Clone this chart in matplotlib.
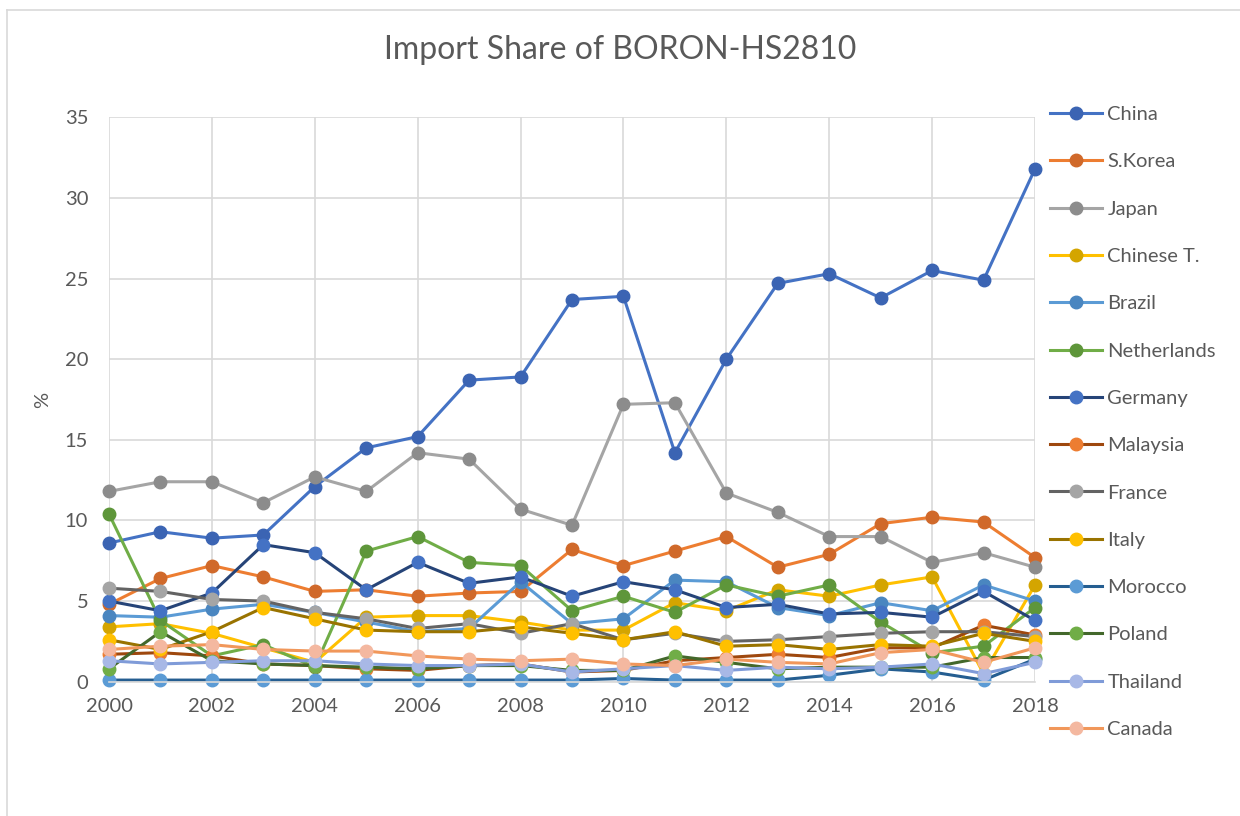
import matplotlib
matplotlib.use("Agg")
import matplotlib.pyplot as plt
from matplotlib.lines import Line2D

plt.rcParams['font.family'] = ['Lato', 'DejaVu Sans']

years = list(range(2000, 2019))

china = [8.6, 9.3, 8.9, 9.1, 12.1, 14.5, 15.2, 18.7, 18.9, 23.7, 23.9, 14.2, 20.0, 24.7, 25.3, 23.8, 25.5, 24.9, 31.8]
skorea = [4.8, 6.4, 7.2, 6.5, 5.6, 5.7, 5.3, 5.5, 5.6, 8.2, 7.2, 8.1, 9.0, 7.1, 7.9, 9.8, 10.2, 9.9, 7.7]
japan = [11.8, 12.4, 12.4, 11.1, 12.7, 11.8, 14.2, 13.8, 10.7, 9.7, 17.2, 17.3, 11.7, 10.5, 9.0, 9.0, 7.4, 8.0, 7.1]
chinese_t = [3.4, 3.6, 3.0, 2.1, 1.2, 4.0, 4.1, 4.1, 3.7, 3.2, 3.2, 4.9, 4.4, 5.7, 5.3, 6.0, 6.5, 0.5, 6.0]
brazil = [4.1, 4.0, 4.5, 4.8, 4.3, 3.7, 3.1, 3.3, 6.2, 3.6, 3.9, 6.3, 6.2, 4.6, 4.1, 4.9, 4.4, 6.0, 5.0]
netherlands = [10.4, 3.8, 1.6, 2.3, 0.9, 8.1, 9.0, 7.4, 7.2, 4.4, 5.3, 4.3, 6.0, 5.3, 6.0, 3.7, 1.8, 2.2, 4.6]
germany = [5.0, 4.4, 5.5, 8.5, 8.0, 5.7, 7.4, 6.1, 6.5, 5.3, 6.2, 5.7, 4.6, 4.8, 4.2, 4.3, 4.0, 5.6, 3.8]
malaysia = [1.7, 1.8, 1.6, 1.1, 1.0, 0.8, 0.7, 1.0, 1.1, 0.6, 0.7, 1.3, 1.5, 1.7, 1.5, 2.1, 2.1, 3.5, 2.9]
france = [5.8, 5.6, 5.1, 5.0, 4.3, 3.9, 3.3, 3.6, 3.0, 3.6, 2.6, 3.0, 2.5, 2.6, 2.8, 3.0, 3.1, 3.1, 2.8]
italy = [2.6, 2.0, 3.1, 4.6, 3.9, 3.2, 3.1, 3.1, 3.4, 3.0, 2.6, 3.1, 2.2, 2.3, 2.0, 2.3, 2.2, 3.0, 2.5]
morocco = [0.1, 0.1, 0.1, 0.1, 0.1, 0.1, 0.1, 0.1, 0.1, 0.1, 0.2, 0.1, 0.1, 0.1, 0.4, 0.8, 0.6, 0.1, 1.4]
poland = [0.8, 3.1, 1.3, 1.1, 1.0, 0.9, 0.8, 1.0, 1.0, 0.7, 0.7, 1.6, 1.2, 0.8, 0.9, 0.9, 0.9, 1.5, 1.5]
thailand = [1.3, 1.1, 1.2, 1.3, 1.3, 1.1, 1.0, 1.0, 1.1, 0.6, 0.8, 1.0, 0.7, 0.9, 0.8, 0.9, 1.1, 0.5, 1.2]
canada = [2.0, 2.2, 2.3, 2.0, 1.9, 1.9, 1.6, 1.4, 1.3, 1.4, 1.1, 1.0, 1.4, 1.2, 1.1, 1.8, 2.0, 1.2, 2.1]

countries = ["China", "S.Korea", "Japan", "Chinese T.", "Brazil", "Netherlands", "Germany",
             "Malaysia", "France", "Italy", "Morocco", "Poland", "Thailand", "Canada"]
series = [china, skorea, japan, chinese_t, brazil, netherlands, germany,
          malaysia, france, italy, morocco, poland, thailand, canada]
line_colors = ["#4472C4", "#ED7D31", "#A5A5A5", "#FFC000", "#5B9BD5", "#70AD47", "#264478",
               "#9E480E", "#636363", "#997300", "#255E91", "#43682B", "#7F9BD8", "#F1975A"]
marker_colors = ["#3B64B3", "#D0692A", "#8C8C8C", "#D4A500", "#4A86C0", "#5E963A", "#4472C4",
                 "#ED7D31", "#A5A5A5", "#FFC000", "#5B9BD5", "#70AD47", "#A8B8E6", "#F4B8A0"]

W, H = 1240, 816
fig = plt.figure(figsize=(W / 100, H / 100), dpi=100)
ax = fig.add_axes([109 / W, 1 - 681.7 / H, (1035 - 109) / W, (681.7 - 117.3) / H])

grid_c = "#D9D9D9"
text_c = "#595959"

handles = []
for name, vals, lc, mc in zip(countries, series, line_colors, marker_colors):
    h, = ax.plot(years, vals, color=lc, lw=2.2, marker='o', markersize=9,
                 markerfacecolor=mc, markeredgecolor=mc, label=name, clip_on=False)
    handles.append(h)

ax.set_xlim(2000, 2018)
ax.set_ylim(0, 35)
ax.set_xticks(range(2000, 2019, 2))
ax.set_yticks(range(0, 36, 5))
ax.grid(True, color=grid_c, lw=1.2)
ax.set_axisbelow(True)
for s in ["top", "right", "left"]:
    ax.spines[s].set_visible(False)
ax.spines["bottom"].set_color(grid_c)
ax.spines["bottom"].set_linewidth(1.2)
ax.tick_params(length=0, labelsize=14.5, labelcolor=text_c)
ax.tick_params(axis='x', pad=12)
ax.tick_params(axis='y', pad=15)
ax.set_ylabel("%", fontsize=14.5, color=text_c, labelpad=10)

fig.text(0.5, 1 - 50 / H, "Import Share of BORON-HS2810", ha='center', va='center',
         fontsize=23, color=text_c)

leg = fig.legend(handles=handles, loc='upper left', bbox_to_anchor=(1050 / W, 1 - 106 / H),
                 frameon=False, fontsize=14.5, handlelength=2.6, handletextpad=0.25,
                 labelspacing=1.5, borderpad=0, borderaxespad=0)
for t in leg.get_texts():
    t.set_color(text_c)

# chart area border
fig.add_artist(Line2D([7 / W, 7 / W], [0, 1 - 10 / H], color=grid_c, lw=1.2))
fig.add_artist(Line2D([7 / W, 1], [1 - 10 / H, 1 - 10 / H], color=grid_c, lw=1.2))

fig.savefig("out.png", dpi=100)
